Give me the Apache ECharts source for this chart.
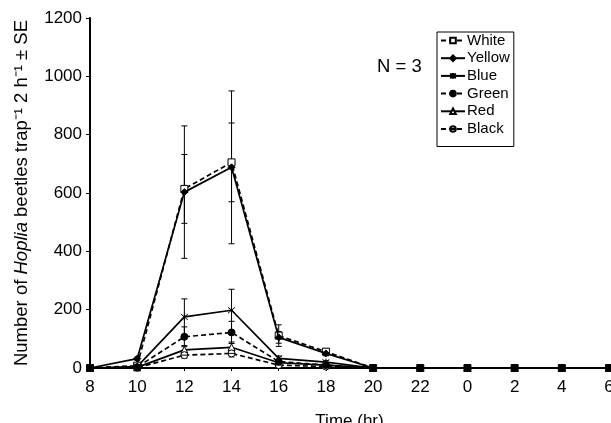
<!DOCTYPE html>
<html>
<head>
<meta charset="utf-8">
<script src="https://cdn.jsdelivr.net/npm/echarts@6/dist/echarts.min.js"></script>
<style>
  html, body { margin: 0; padding: 0; background: #fff; }
  #chart { width: 611px; height: 423px; }
</style>
</head>
<body>
<div id="chart"></div>
<script>
"use strict";

var times = ['8', '10', '12', '14', '16', '18', '20', '22', '0', '2', '4', '6']
var yTicks = [0, 200, 400, 600, 800, 1000, 1200]

var white    = [0, 8, 614, 705, 111, 56, 0, 0, 0, 0, 0, 0]
var whiteSE  = [0, 3, 118, 135, 37, 10, 0, 0, 0, 0, 0, 0]
var yellow   = [0, 32, 603, 688, 105, 50, 0, 0, 0, 0, 0, 0]
var yellowSE = [0, 5, 227, 262, 20, 8, 0, 0, 0, 0, 0, 0]
var blue     = [0, 5, 175, 198, 33, 20, 0, 0, 0, 0, 0, 0]
var blueSE   = [0, 2, 62, 72, 8, 5, 0, 0, 0, 0, 0, 0]
var green    = [0, 3, 107, 122, 22, 10, 0, 0, 0, 0, 0, 0]
var greenSE  = [0, 1, 34, 38, 6, 3, 0, 0, 0, 0, 0, 0]
var red      = [0, 2, 62, 71, 18, 10, 0, 0, 0, 0, 0, 0]
var redSE    = [0, 1, 15, 18, 5, 3, 0, 0, 0, 0, 0, 0]
var black    = [0, 1, 44, 50, 10, 5, 0, 0, 0, 0, 0, 0]
var blackSE  = [0, 1, 10, 12, 3, 2, 0, 0, 0, 0, 0, 0]

var font = 'Liberation Sans, Arial, sans-serif'

var starPath = 'path://M0,0L10,10M10,0L0,10M5,-1L5,11'
var circleLinePath = 'path://M0,5A5,5 0 1,1 10,5A5,5 0 1,1 0,5ZM0,5L10,5'

var defs = [
  {name: 'White', data: white, se: whiteSE, dash: true, symbol: 'rect', fill: '#fff', z: 3},
  {name: 'Yellow', data: yellow, se: yellowSE, dash: false, symbol: 'diamond', fill: '#000', z: 4},
  {name: 'Blue', data: blue, se: blueSE, dash: false, symbol: starPath, fill: '#000', z: 3},
  {name: 'Green', data: green, se: greenSE, dash: true, symbol: 'circle', fill: '#000', z: 4},
  {name: 'Red', data: red, se: redSE, dash: false, symbol: 'triangle', fill: '#fff', z: 3},
  {name: 'Black', data: black, se: blackSE, dash: true, symbol: circleLinePath, fill: '#fff', z: 3}
]

function errorBars(api) {
  var x = api.value(0), m = api.value(1), s = api.value(2)
  if (!s) return
  var top = api.coord([x, m + s])
  var bot = api.coord([x, m - s])
  var st = {stroke: '#000', lineWidth: 1}
  return {
    type: 'group',
    children: [
      {type: 'line', shape: {x1: top[0], y1: top[1], x2: bot[0], y2: bot[1]}, style: st},
      {type: 'line', shape: {x1: top[0] - 3, y1: top[1], x2: top[0] + 3, y2: top[1]}, style: st},
      {type: 'line', shape: {x1: bot[0] - 3, y1: bot[1], x2: bot[0] + 3, y2: bot[1]}, style: st}
    ]
  }
}

var series = []
defs.forEach(function (d) {
  series.push({
    name: d.name + ' SE',
    type: 'custom',
    renderItem: function (params, api) { return errorBars(api) },
    data: d.data.map(function (v, i) { return [i, v, d.se[i]] }),
    encode: {x: 0, y: 1},
    silent: true,
    z: 1
  })
})
defs.forEach(function (d) {
  series.push({
    name: d.name,
    type: 'line',
    data: d.data,
    symbol: d.symbol,
    symbolSize: 7,
    showAllSymbol: true,
    lineStyle: {color: '#000', width: 1.7, type: d.dash ? [5, 3] : 'solid'},
    itemStyle: {color: d.fill, borderColor: '#000', borderWidth: 1},
    z: d.z
  })
})

var chart = echarts.init(document.getElementById('chart'))

var option = {
  backgroundColor: '#fff',
  animation: false,
  textStyle: {fontFamily: font},
  grid: {left: 90, right: 2, top: 18, bottom: 55, outerBoundsMode: 'none', containLabel: false},
  legend: {
    data: defs.map(function (d) { return d.name }),
    orient: 'vertical',
    left: 437,
    top: 32,
    itemWidth: 24,
    itemHeight: 7,
    itemGap: 2.7,
    padding: [1, 4, 10, 3],
    borderColor: '#000',
    borderWidth: 1,
    textStyle: {fontFamily: font, fontSize: 15, lineHeight: 15, color: '#000', padding: [0, 0, 0, -3]}
  },
  graphic: [{
    type: 'text',
    left: 377,
    top: 57,
    style: {text: 'N = 3', fontFamily: font, fontSize: 18.5, fill: '#000'}
  }],
  xAxis: {
    type: 'category',
    data: times,
    boundaryGap: false,
    name: 'Time (hr)',
    nameLocation: 'middle',
    nameGap: 45,
    nameTextStyle: {fontFamily: font, fontSize: 17, color: '#000'},
    axisLine: {lineStyle: {color: '#000', width: 2}},
    axisTick: {show: true, length: 3, lineStyle: {color: '#000'}},
    axisLabel: {fontFamily: font, fontSize: 17, color: '#000', margin: 11},
    splitLine: {show: false}
  },
  yAxis: {
    type: 'value',
    min: yTicks[0],
    max: yTicks[yTicks.length - 1],
    interval: 200,
    name: '{a|Number of }{i|Hoplia}{a| beetles trap⁻¹ 2 h⁻¹ ± SE}',
    nameLocation: 'middle',
    nameGap: 59,
    nameTextStyle: {
      rich: {
        a: {fontFamily: font, fontSize: 18.5, color: '#000'},
        i: {fontFamily: font, fontSize: 18.5, color: '#000', fontStyle: 'italic'}
      }
    },
    axisLine: {show: true, lineStyle: {color: '#000', width: 2}},
    axisTick: {show: true, length: 4, lineStyle: {color: '#000'}},
    axisLabel: {fontFamily: font, fontSize: 17, color: '#000', margin: 8, formatter: function (v) { return String(v) }},
    splitLine: {show: false}
  },
  series: series
}

chart.setOption(option)
</script>
</body>
</html>
